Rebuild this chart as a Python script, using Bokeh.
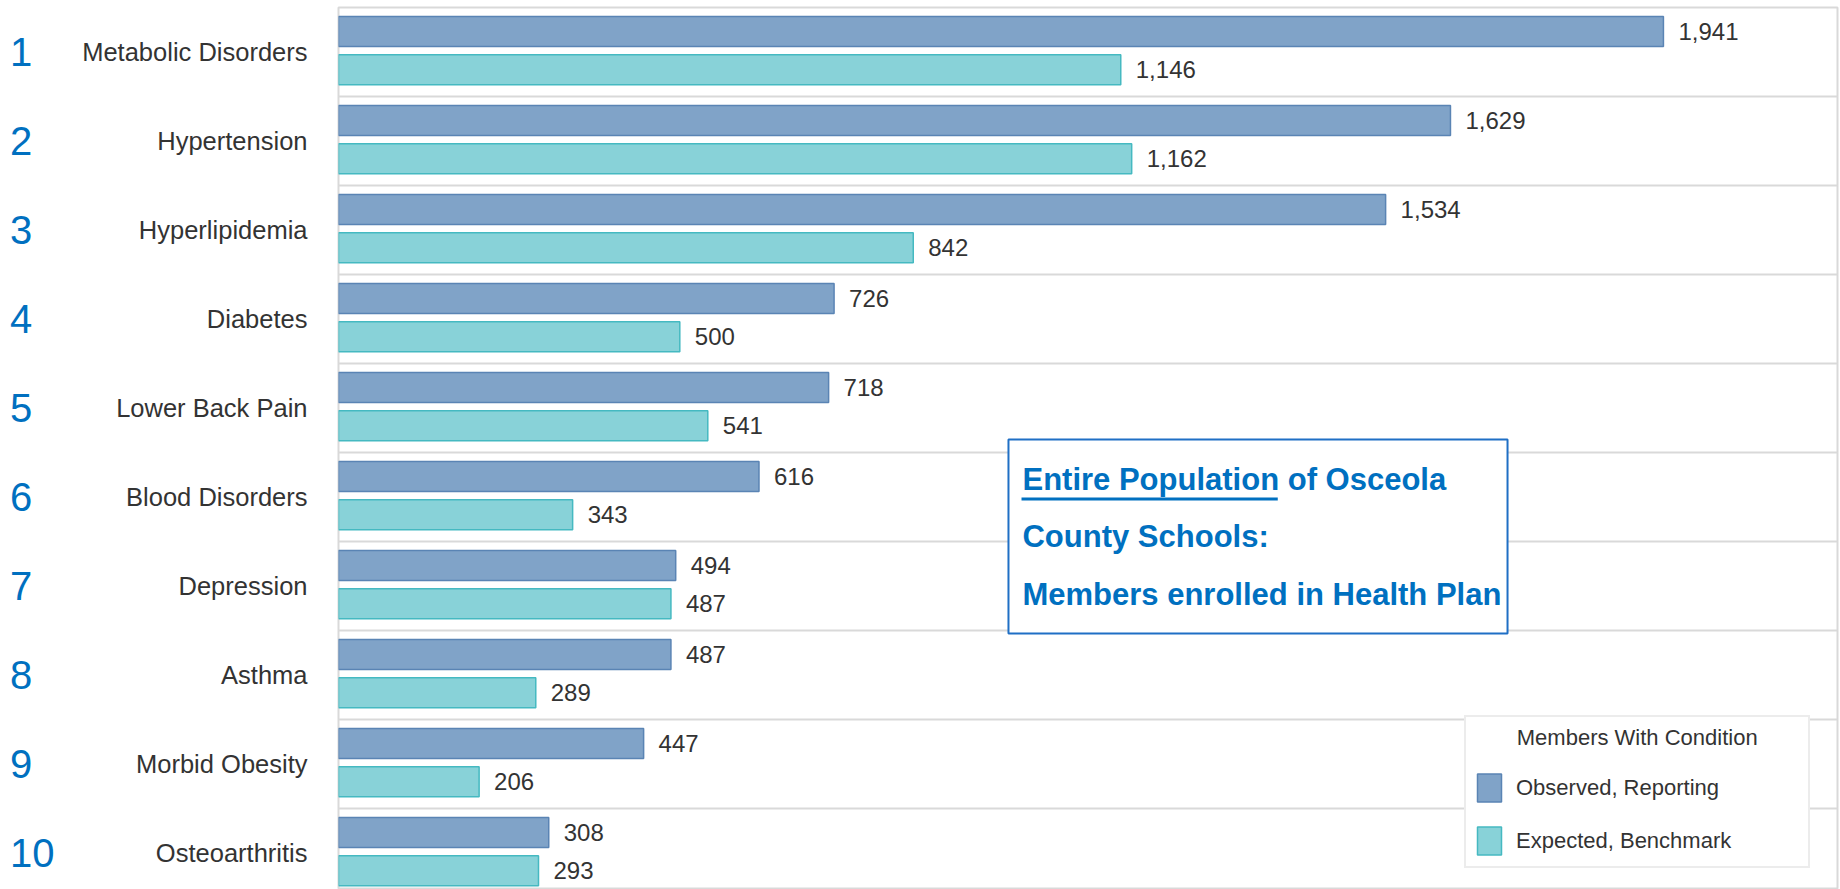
from bokeh.plotting import figure
from bokeh.models import (ColumnDataSource, Range1d, FixedTicker, Legend, LegendItem,
                          Label, BoxAnnotation, LinearAxis)
from bokeh.core.properties import value
from bokeh.embed import file_html
from bokeh.resources import INLINE

# ---------------- data ----------------
categories = ["Metabolic Disorders", "Hypertension", "Hyperlipidemia", "Diabetes",
              "Lower Back Pain", "Blood Disorders", "Depression", "Asthma",
              "Morbid Obesity", "Osteoarthritis"]
ranks = [1, 2, 3, 4, 5, 6, 7, 8, 9, 10]
observed = [1941, 1629, 1534, 726, 718, 616, 494, 487, 447, 308]
expected = [1146, 1162, 842, 500, 541, 343, 487, 289, 206, 293]
series_names = ["Observed, Reporting", "Expected, Benchmark"]
legend_title = "Members With Condition"
box_lines = ["Entire Population of Osceola", "County Schools:", "Members enrolled in Health Plan"]

# ---------------- styles ----------------
OBS_FILL, OBS_LINE = "#80a3c8", "#5a84b4"
EXP_FILL, EXP_LINE = "#88d2d8", "#45b9c1"
BLUE = "#0070c0"
TXT = "#333333"
FONT = "Liberation Sans"
FIGSP = "\u2007"   # figure space keeps single digits left-aligned with "10"
NBSP = "\u00a0"

src = ColumnDataSource(dict(
    rank=ranks,
    cat=categories,
    obs=observed,
    exp=expected,
    y_obs=[r - 0.23 for r in ranks],
    y_exp=[r + 0.20 for r in ranks],
    obs_lbl=[f"{v:,}" for v in observed],
    exp_lbl=[f"{v:,}" for v in expected],
))

p = figure(width=1840, height=889, x_range=Range1d(0, 2196), y_range=Range1d(10.41, 0.5),
           output_backend="svg", toolbar_location=None,
           min_border_left=338, min_border_right=3, min_border_top=7, min_border_bottom=0)
p.background_fill_color = "white"
p.border_fill_color = "white"
p.outline_line_color = "#d9d9d9"
p.outline_line_width = 2

p.xaxis.visible = False
p.xgrid.visible = False
p.ygrid.ticker = FixedTicker(ticks=[r + 0.5 for r in ranks])
p.ygrid.grid_line_color = "#d9d9d9"
p.ygrid.grid_line_width = 2


def style_axis(ax, standoff, size, color):
    ax.axis_line_color = None
    ax.major_tick_line_color = None
    ax.minor_tick_line_color = None
    ax.major_tick_out = 0
    ax.major_tick_in = 0
    ax.major_label_standoff = standoff
    ax.major_label_text_font = FONT
    ax.major_label_text_font_size = size
    ax.major_label_text_color = color


# category names axis (inner)
yax = p.yaxis[0]
yax.ticker = FixedTicker(ticks=ranks)
yax.major_label_overrides = {r: c for r, c in zip(ranks, categories)}
style_axis(yax, 31, "25.5px", TXT)

# rank numbers axis (outer)
rank_ax = LinearAxis(ticker=FixedTicker(ticks=ranks))
rank_ax.major_label_overrides = {r: (str(r) if r >= 10 else str(r) + FIGSP) for r in ranks}
style_axis(rank_ax, 25, "40px", BLUE)
p.add_layout(rank_ax, "left")

r_obs = p.hbar(y="y_obs", right="obs", left=0, height=0.337, source=src,
               fill_color=OBS_FILL, line_color=OBS_LINE, line_width=1.5)
r_exp = p.hbar(y="y_exp", right="exp", left=0, height=0.337, source=src,
               fill_color=EXP_FILL, line_color=EXP_LINE, line_width=1.5)

p.text(x="obs", y="y_obs", text="obs_lbl", source=src, x_offset=15, text_baseline="middle",
       text_font=value(FONT), text_font_size="24px", text_color=TXT)
p.text(x="exp", y="y_exp", text="exp_lbl", source=src, x_offset=15, text_baseline="middle",
       text_font=value(FONT), text_font_size="24px", text_color=TXT)

# info box
p.add_layout(BoxAnnotation(left=981.5, right=1712.6, top=5.354, bottom=7.534,
                           fill_color="white", fill_alpha=1.0,
                           line_color="#1f6fc5", line_alpha=1.0, line_width=2))
for txt, yc in zip(box_lines, [5.803, 6.449, 7.101]):
    p.add_layout(Label(x=1002, y=yc, text=txt, text_baseline="middle", text_align="left",
                       text_font=FONT, text_font_style="bold",
                       text_font_size="31px", text_color=BLUE))
p.add_layout(BoxAnnotation(left=1000.6, right=1376.0, top=6.006, bottom=6.039,
                           fill_color=BLUE, fill_alpha=1.0, line_color=None))

legend = Legend(items=[LegendItem(label=series_names[0], renderers=[r_obs]),
                       LegendItem(label=series_names[1], renderers=[r_exp])],
                title=NBSP * 7 + legend_title, location=(1126, 21))
legend.title_text_font = FONT
legend.title_text_font_style = "normal"
legend.title_text_font_size = "22px"
legend.title_text_color = TXT
legend.title_standoff = 19
legend.label_text_font = FONT
legend.label_text_font_size = "22px"
legend.label_text_color = TXT
legend.glyph_width = 30
legend.glyph_height = 35
legend.label_standoff = 12
legend.label_width = 284
legend.label_height = 35
legend.spacing = 18
legend.padding = 8
legend.margin = 0
legend.border_line_color = "#d9d9d9"
legend.border_line_width = 2
legend.background_fill_alpha = 1.0
p.add_layout(legend)

open("out.html", "w").write(file_html(p, INLINE))
